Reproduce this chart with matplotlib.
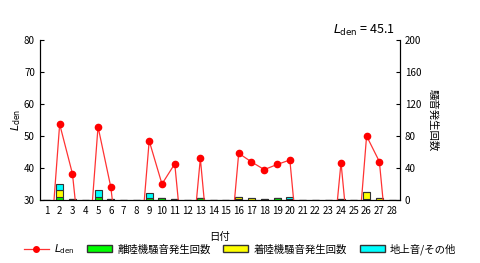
import numpy as np
import matplotlib
matplotlib.use("Agg")
from matplotlib import pyplot as plt
from matplotlib.patches import Patch
from matplotlib.lines import Line2D

plt.rcParams['font.family'] = ['Noto Sans CJK JP', 'DejaVu Sans']

# 日付
days = np.arange(1, 29)
# Lden (データなしの日は 0 → 軸外)
lden = [0, 53.7, 38.2, 0, 52.9, 34.0, 0, 0, 48.5, 35.0, 41.3, 0, 43.0, 0,
        0, 44.6, 41.9, 39.5, 41.1, 42.5, 0, 0, 0, 41.7, 0, 50.0, 42.0, 0]
# 騒音発生回数
takeoff = [0, 4, 1, 0, 4, 1, 0, 0, 2, 2, 1, 0, 2, 0,
           0, 1, 0, 1, 2, 1, 0, 0, 0, 1, 0, 1, 0, 0]
landing = [0, 8, 0, 0, 0, 0, 0, 0, 0, 0, 0, 0, 0, 0,
           0, 3, 2, 0, 0, 0, 0, 0, 0, 0, 0, 9, 2, 0]
ground = [0, 8, 0, 0, 8, 0, 0, 0, 7, 0, 0, 0, 0, 0,
          0, 0, 0, 0, 0, 3, 0, 0, 0, 0, 0, 0, 0, 0]
lden_avg = 45.1

fig = plt.figure(figsize=(4.8, 2.63), dpi=100)
ax = fig.add_axes([0.083, 0.2395, 0.75, 0.6085])
ax2 = ax.twinx()

# 棒グラフ（右軸）
w = 0.55
t = np.array(takeoff)
l = np.array(landing)
g = np.array(ground)
ax2.bar(days, t, width=w, color='#00ff00', edgecolor='#333333', lw=0.8)
ax2.bar(days, l, width=w, bottom=t, color='#ffff00', edgecolor='#333333', lw=0.8)
ax2.bar(days, g, width=w, bottom=t + l, color='#00ffff', edgecolor='#333333', lw=0.8)
ax2.set_ylim(0, 200)
ax2.set_yticks([0, 40, 80, 120, 160, 200])
ax2.set_ylabel('騒音発生回数', rotation=270, fontsize=7.5, labelpad=12)

# Lden 折れ線（左軸）
ax.set_zorder(ax2.get_zorder() + 1)
ax.patch.set_visible(False)
ax.plot(days, lden, color='#ff3333', lw=0.9, marker='o', ms=4.5,
        markerfacecolor='red', markeredgecolor='red')
ax.set_ylim(30, 80)
ax.set_xlim(0.45, 28.6)
ax.set_yticks([30, 40, 50, 60, 70, 80])
ax.set_xticks(days)
ax.set_ylabel(r'$L_{\rm den}$', fontsize=8, labelpad=1)
ax.set_xlabel('日付', fontsize=7.5, labelpad=12)

for a in (ax, ax2):
    a.spines['top'].set_visible(False)
    a.tick_params(labelsize=7, direction='in', length=3, width=0.8)
ax.tick_params(axis='x', length=0, pad=4)

fig.text(0.822, 0.87, r'$L_{\rm den}$ = %.1f' % lden_avg, ha='right',
         fontsize=9)

handles = [
    Line2D([], [], color='#ff3333', lw=0.9, marker='o', ms=4,
           markerfacecolor='red', markeredgecolor='red'),
    Patch(facecolor='#00ff00', edgecolor='#333333'),
    Patch(facecolor='#ffff00', edgecolor='#333333'),
    Patch(facecolor='#00ffff', edgecolor='#333333'),
]
labels = [r'$L_{\rm den}$', '離陸機騒音発生回数', '着陸機騒音発生回数', '地上音/その他']
fig.legend(handles, labels, loc='lower center', bbox_to_anchor=(0.5, -0.01),
           ncol=4, frameon=False, fontsize=7.5, handlelength=2.4,
           handleheight=0.7, columnspacing=1.2, handletextpad=0.5)

fig.savefig('out.png', dpi=100)
